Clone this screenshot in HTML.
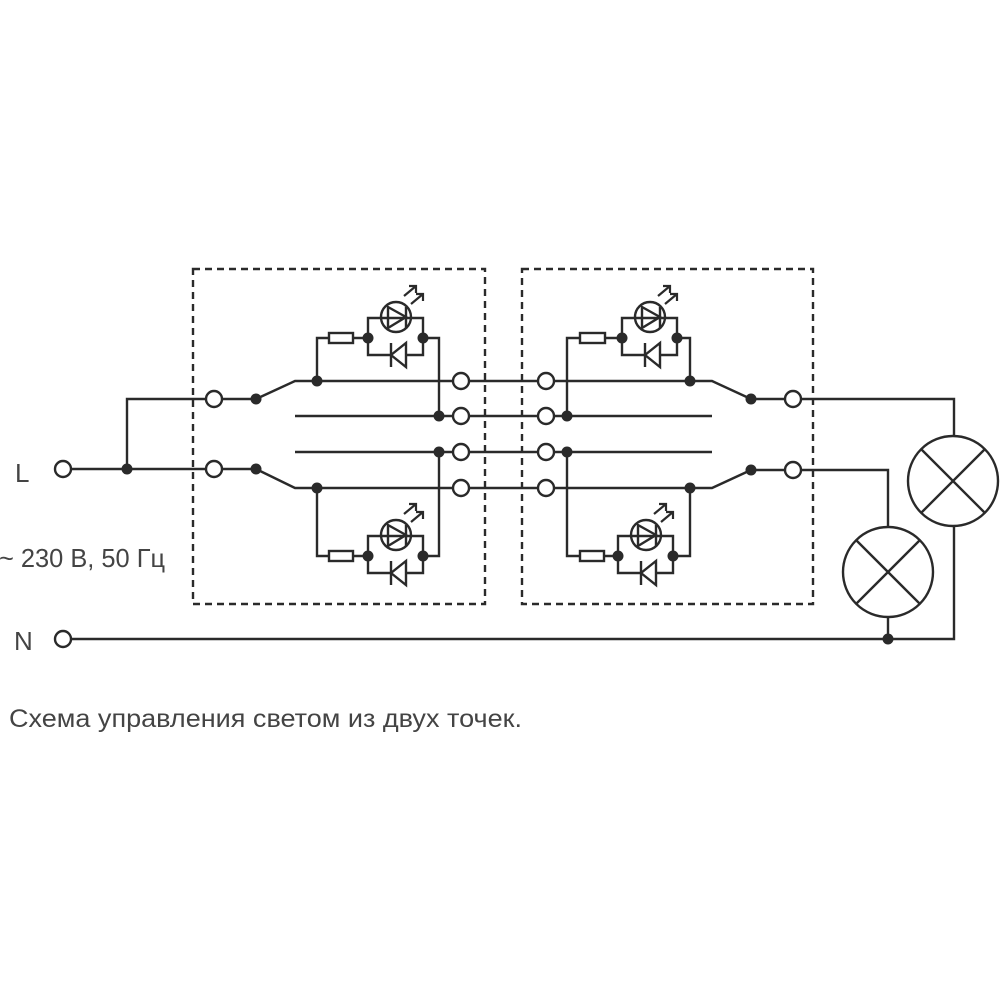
<!DOCTYPE html>
<html><head><meta charset="utf-8"><style>
html,body{margin:0;padding:0;background:#fff;}
svg{display:block;}
text{font-family:"Liberation Sans",sans-serif;fill:#444;}
</style></head><body>
<svg width="1000" height="1000" viewBox="0 0 1000 1000" xmlns="http://www.w3.org/2000/svg">
<defs>
<g id="led">
  <path d="M0,0 V-20 H55 V0 M0,0 V17 H55 V0" fill="none" stroke="#2a2a2a" stroke-width="2.4"/>
  <circle cx="28" cy="-21" r="15" fill="#fff" stroke="#2a2a2a" stroke-width="2.4"/>
  <path d="M20,-31 V-10 L38,-21 Z M38,-31 V-10 M13,-20 H43" fill="none" stroke="#2a2a2a" stroke-width="2.4"/>
  <path d="M38,5 V29 L23,17 Z" fill="#fff" stroke="#2a2a2a" stroke-width="2.4"/>
  <path d="M23,5 V29" stroke="#2a2a2a" stroke-width="2.4"/>
  <path d="M36,-42 L48,-52 M41,-52 H48 V-45 M43,-34 L55,-44 M48,-44 H55 V-37" fill="none" stroke="#2a2a2a" stroke-width="2.2"/>
  <circle cx="0" cy="0" r="5.5" fill="#2a2a2a"/>
  <circle cx="55" cy="0" r="5.5" fill="#2a2a2a"/>
</g>
</defs>
<g fill="none" stroke="#2a2a2a" stroke-width="2.4">
  <rect x="193" y="269" width="292" height="335" stroke-dasharray="7,5"/>
  <rect x="522" y="269" width="291" height="335" stroke-dasharray="7,5"/>
  <path d="M71,469 H206 M127,469 V399 H206 M71,639 H954 V527 M222,399 H256 L295,381 H453 M222,469 H256 L295,488 H453 M295,416 H453 M295,452 H453"/>
  <path d="M317,381 V338 H329 M353,338 H368 M423,338 H439 V416 M317,488 V556 H329 M353,556 H368 M423,556 H439 V452"/>
  <path d="M469,381 H538 M469,416 H538 M469,452 H538 M469,488 H538"/>
  <path d="M554,381 H712 L751,399 H785 M554,416 H712 M554,452 H712 M554,488 H712 L751,470 H785"/>
  <path d="M567,416 V338 H580 M605,338 H621 M677,338 H690 V381 M567,452 V556 H580 M604,556 H618 M673,556 H690 V488"/>
  <path d="M801,399 H954 V435 M801,470 H888 V527 M888,617 V639"/>
  <rect x="329" y="333" width="24" height="10"/>
  <rect x="329" y="551" width="24" height="10"/>
  <rect x="580" y="333" width="25" height="10"/>
  <rect x="580" y="551" width="24" height="10"/>
  <circle cx="953" cy="481" r="45"/>
  <path d="M921,449 L985,513 M985,449 L921,513"/>
  <circle cx="888" cy="572" r="45"/>
  <path d="M856,540 L920,604 M920,540 L856,604"/>
</g>
<g fill="#fff" stroke="#2a2a2a" stroke-width="2.4">
  <circle cx="63" cy="469" r="8"/>
  <circle cx="63" cy="639" r="8"/>
  <circle cx="214" cy="399" r="8"/>
  <circle cx="214" cy="469" r="8"/>
  <circle cx="461" cy="381" r="8"/>
  <circle cx="461" cy="416" r="8"/>
  <circle cx="461" cy="452" r="8"/>
  <circle cx="461" cy="488" r="8"/>
  <circle cx="546" cy="381" r="8"/>
  <circle cx="546" cy="416" r="8"/>
  <circle cx="546" cy="452" r="8"/>
  <circle cx="546" cy="488" r="8"/>
  <circle cx="793" cy="399" r="8"/>
  <circle cx="793" cy="470" r="8"/>
</g>
<g fill="#2a2a2a">
  <circle cx="127" cy="469" r="5.5"/>
  <circle cx="256" cy="399" r="5.5"/>
  <circle cx="256" cy="469" r="5.5"/>
  <circle cx="317" cy="381" r="5.5"/>
  <circle cx="317" cy="488" r="5.5"/>
  <circle cx="439" cy="416" r="5.5"/>
  <circle cx="439" cy="452" r="5.5"/>
  <circle cx="567" cy="416" r="5.5"/>
  <circle cx="567" cy="452" r="5.5"/>
  <circle cx="690" cy="381" r="5.5"/>
  <circle cx="690" cy="488" r="5.5"/>
  <circle cx="751" cy="399" r="5.5"/>
  <circle cx="751" cy="470" r="5.5"/>
  <circle cx="888" cy="639" r="5.5"/>
</g>
<use href="#led" x="368" y="338"/>
<use href="#led" x="368" y="556"/>
<use href="#led" x="622" y="338"/>
<use href="#led" x="618" y="556"/>
<text x="15" y="482" font-size="26">L</text>
<text x="-1" y="567" font-size="26" textLength="166" lengthAdjust="spacingAndGlyphs">~ 230 В, 50 Гц</text>
<text x="14" y="650" font-size="26">N</text>
<text x="9" y="727" font-size="25" textLength="513" lengthAdjust="spacingAndGlyphs">Схема управления светом из двух точек.</text>
</svg>
</body></html>
